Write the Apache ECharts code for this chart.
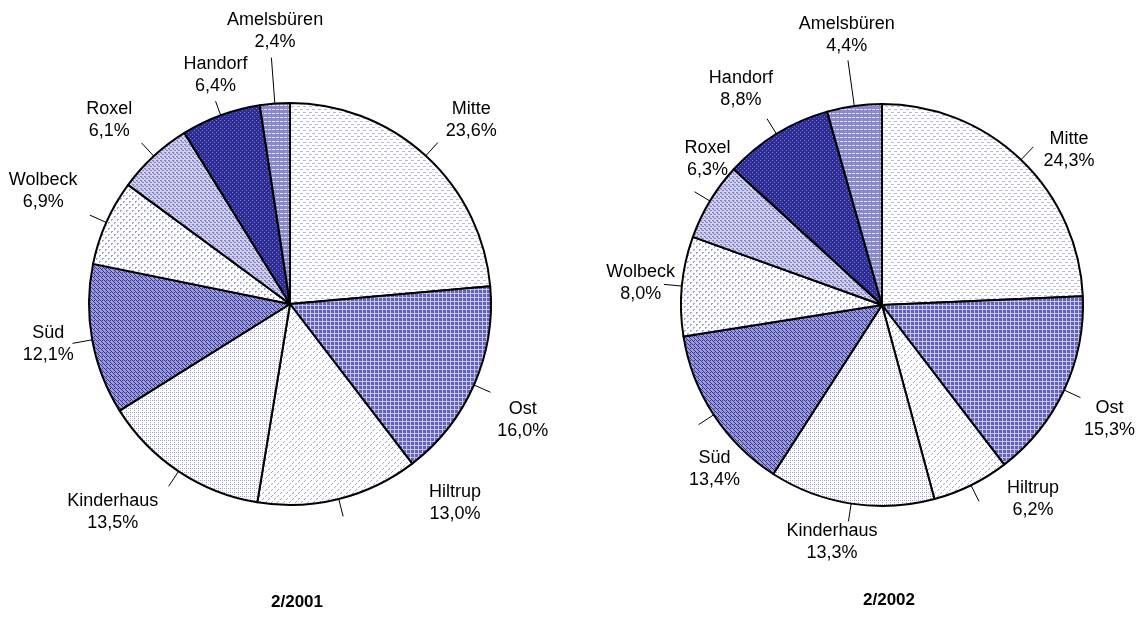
<!DOCTYPE html>
<html>
<head>
<meta charset="utf-8">
<script src="https://cdn.jsdelivr.net/npm/echarts@6/dist/echarts.min.js"></script>
<style>
  html, body { margin: 0; padding: 0; background: #fff; }
  #myChart { width: 1145px; height: 639px; }
</style>
</head>
<body>
<div id="myChart"></div>
<script>
// districts, clockwise from 12 o'clock
const districts = ['Mitte', 'Ost', 'Hiltrup', 'Kinderhaus', 'Süd', 'Wolbeck', 'Roxel', 'Handorf', 'Amelsbüren']
const share2001 = [23.6, 16.0, 13.0, 13.5, 12.1, 6.9, 6.1, 6.4, 2.4]
const share2002 = [24.3, 15.3, 6.2, 13.3, 13.4, 8.0, 6.3, 8.8, 4.4]
const titles = ['2/2001', '2/2002']

// leader line lengths (px) and hand-placed label nudges, as in the original
const leader2001 = [18, 18, 18, 18, 20, 18, 18, 15, 46]
const leader2002 = [18, 18, 18, 18, 18, 18, 18, 18, 46]
const nudge2001 = [[9, -2], [4, 13], [97, -37], [-19, 4], [5, -9], [-10, -9], [-10, -2], [21, -3], [18, -3]]
const nudge2002 = [[11, 24], [1, 6], [34, -25], [3, -3], [43, 27], [15, 6], [38, -15], [0, -7], [18, -1]]

const PIE_R = 201
const FONT = 'Liberation Sans, Arial, sans-serif'

// small hatch tiles imitating the printed fill patterns
function tile (w, h, bg, fg, rects) {
  let c = document.createElement('canvas')
  c.width = w
  c.height = h
  let ctx = c.getContext('2d')
  ctx.fillStyle = bg
  ctx.fillRect(0, 0, w, h)
  ctx.fillStyle = fg
  rects.forEach(r => ctx.fillRect(r[0], r[1], r[2], r[3]))
  return { image: c, repeat: 'repeat' }
}

const fills = [
  tile(6, 6, '#ffffff', '#b6b6de', [[0, 1, 3, 1], [3, 4, 3, 1]]),
  tile(4, 4, '#6262b8', '#c4c4e6', [[0, 1, 4, 1], [2, 0, 1, 4]]),
  tile(6, 6, '#ffffff', '#a4a4d6', [[1, 4, 1, 1], [2, 3, 1, 1], [4, 1, 1, 1], [5, 0, 1, 1]]),
  tile(4, 4, '#ffffff', '#a0a0d4', [[0, 0, 1, 1], [2, 2, 1, 1], [2, 0, 1, 1]]),
  tile(4, 4, '#9c9cd6', '#34349c', [[0, 0, 1, 1], [1, 1, 1, 1], [2, 2, 1, 1], [3, 3, 1, 1], [2, 0, 1, 1]]),
  tile(6, 6, '#ffffff', '#a2a2d8', [[0, 0, 2, 1], [0, 1, 1, 1], [3, 3, 2, 1], [3, 4, 1, 1]]),
  tile(4, 4, '#d0d0ec', '#8080c8', [[0, 0, 2, 1], [2, 2, 2, 1], [1, 1, 1, 1]]),
  tile(4, 4, '#2c2c94', '#7a7ac4', [[0, 0, 1, 1], [2, 2, 1, 1]]),
  tile(4, 4, '#8a8acb', '#e0e0f2', [[0, 1, 3, 1]])
]

function sgnRoot (v) {
  return (v < 0 ? -1 : 1) * Math.sqrt(Math.abs(v))
}

function pieSeries (values, leaders, nudges, cx, cy) {
  let total = values.reduce((a, b) => a + b, 0)
  // mid angle of every slice, clockwise from 12 o'clock
  let acc = 0
  let mids = values.map(v => {
    let m = (acc + v / 2) / total * Math.PI * 2
    acc += v
    return m
  })
  return {
    type: 'pie',
    center: [cx, cy],
    radius: PIE_R,
    startAngle: 90,
    clockwise: true,
    animation: false,
    silent: true,
    itemStyle: { borderColor: '#000', borderWidth: 2 },
    label: {
      show: true,
      position: 'outside',
      color: '#000',
      fontFamily: FONT,
      fontSize: 18,
      lineHeight: 22,
      overflow: 'none',
      edgeDistance: 0,
      formatter: p => p.name + '\n' + p.value.toFixed(1).replace('.', ',') + '%'
    },
    labelLine: {
      show: true,
      length: 18,
      length2: 0,
      lineStyle: { color: '#000', width: 1 }
    },
    // short radial leader, label block set just past its end
    labelLayout: function (params) {
      let i = params.dataIndex
      let r = params.labelRect
      let ux = Math.sin(mids[i])
      let uy = -Math.cos(mids[i])
      let ex = cx + ux * PIE_R
      let ey = cy + uy * PIE_R
      let tx = ex + ux * leaders[i]
      let ty = ey + uy * leaders[i]
      return {
        x: tx + sgnRoot(ux) * (r.width / 2 + 4) + nudges[i][0],
        y: ty + sgnRoot(uy) * (r.height / 2 + 2) + nudges[i][1],
        align: 'center',
        verticalAlign: 'middle',
        labelLinePoints: [[ex, ey], [tx, ty], [tx, ty]]
      }
    },
    data: districts.map((name, i) => ({
      name: name,
      value: values[i],
      itemStyle: { color: fills[i] }
    }))
  }
}

let myChart = echarts.init(document.getElementById('myChart'))
myChart.setOption({
  backgroundColor: '#fff',
  title: [
    { text: titles[0], left: 292, top: 589, textAlign: 'center',
      textStyle: { fontFamily: FONT, fontSize: 17, fontWeight: 'bold', color: '#000' } },
    { text: titles[1], left: 884, top: 587, textAlign: 'center',
      textStyle: { fontFamily: FONT, fontSize: 17, fontWeight: 'bold', color: '#000' } }
  ],
  series: [
    pieSeries(share2001, leader2001, nudge2001, 290, 304),
    pieSeries(share2002, leader2002, nudge2002, 882, 305)
  ]
})
</script>
</body>
</html>
